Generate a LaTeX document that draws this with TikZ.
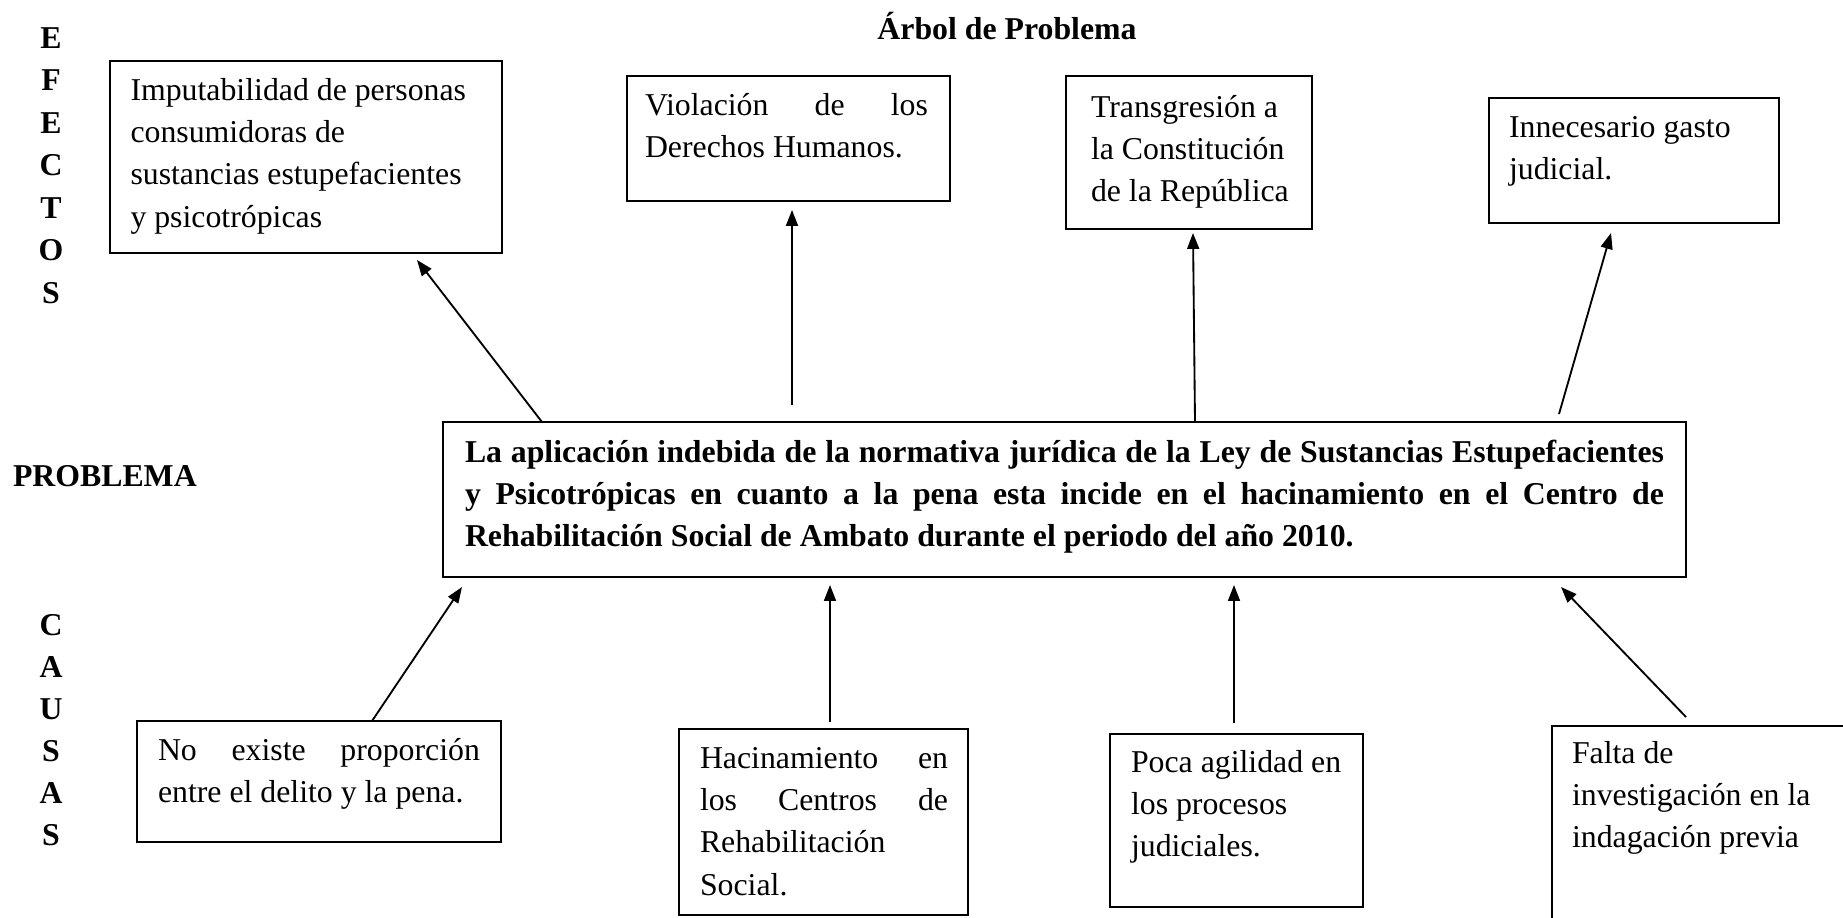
\documentclass[tikz,border=0pt]{standalone}
\usepackage{fontspec}
\setmainfont{Liberation Serif}
\usetikzlibrary{arrows.meta,calc,fit}
\newcommand\fstrut{\rule{0pt}{10pt}}
\begin{document}
\begin{tikzpicture}[x=0.3774pt, y=-0.3774pt,
  box/.style={draw, line width=0.75pt, inner sep=0pt, outer sep=0pt},
  txt/.style={inner sep=0pt, outer sep=0pt, anchor=north west, yshift=10pt, font=\fontsize{12}{16}\selectfont},
  lbl/.style={inner sep=0pt, outer sep=0pt, anchor=base, font=\fontsize{12}{16}\selectfont\bfseries},
  arr/.style={line width=0.7pt, -{Triangle[length=6pt,width=4.5pt]}}]
\useasboundingbox (0,0) rectangle (1843,917);
\clip (0,0) rectangle (1843,917);

% title and side labels
\node[lbl] (title) at (1007,39) {Árbol de Problema};
\node[lbl, anchor=base west] (prob) at (13,486) {PROBLEMA};
\foreach \l/\yy [count=\i] in {E/48,F/90.5,E/133,C/175.5,T/218,O/260.5,S/303}
  \node[lbl] (ef\i) at (51,\yy) {\l};
\foreach \l/\yy [count=\i] in {C/635,A/677,U/719,S/761,A/803,S/845}
  \node[lbl] (ca\i) at (51,\yy) {\l};

% frames
\node[box, fit={(110,61) (502,253)}] (b1) {};
\node[box, fit={(627,76) (950,201)}] (b2) {};
\node[box, fit={(1066,76) (1312,229)}] (b3) {};
\node[box, fit={(1489,98) (1779,223)}] (b4) {};
\node[box, fit={(443,422) (1686,577)}] (m) {};
\node[box, fit={(137,721) (501,842)}] (b5) {};
\node[box, fit={(679,729) (968,915)}] (b6) {};
\node[box, fit={(1110,734) (1363,907)}] (b7) {};
\node[box, fit={(1552,726) (1880,980)}] (b8) {};

% texts
\node[txt, align=left] (t1) at (130.5,100) {\fstrut Imputabilidad de personas\\consumidoras de\\sustancias estupefacientes\\y psicotrópicas};
\node[txt, text width=106.8pt, align=justify] (t2) at (645,115) {\fstrut Violación de los\linebreak Derechos Humanos.};
\node[txt, align=left] (t3) at (1091,117) {\fstrut Transgresión a\\la Constitución\\de la República};
\node[txt, align=left] (t4) at (1509,137) {\fstrut Innecesario gasto\\judicial.};
\node[txt, text width=452.5pt, align=justify, font=\fontsize{12}{16}\selectfont\bfseries] (tm) at (465,462)
  {\fstrut La aplicación indebida de la normativa jurídica de la Ley de Sustancias Estupefacientes\linebreak
   y Psicotrópicas en cuanto a la pena esta incide en el hacinamiento en el Centro de\linebreak
   Rehabilitación Social de Ambato durante el periodo del año 2010.};
\node[txt, text width=121.5pt, align=justify] (t5) at (158,760) {\fstrut No existe proporción\linebreak entre el delito y la pena.};
\node[txt, text width=93.6pt, align=justify] (t6) at (700,768) {\fstrut Hacinamiento en\linebreak los Centros de\linebreak Rehabilitación\newline Social.};
\node[txt, align=left] (t7) at (1131,772) {\fstrut Poca agilidad en\\los procesos\\judiciales.};
\node[txt, align=left] (t8) at (1572,763) {\fstrut Falta de\\investigación en la\\indagación previa};

% effect arrows
\draw[arr] ($(m.north west)+(99,0)$) -- ($(b1.south west)+(307,7)$);
\draw[arr] ($(m.north west)+(349,-17)$) -- ($(b2.south west)+(165,9)$);
\draw[arr] ($(m.north west)+(752,0)$) -- ($(b3.south west)+(127,4)$);
\draw[arr] ($(m.north west)+(1116,-8)$) -- ($(b4.south west)+(122,10)$);

% cause arrows
\draw[arr] ($(b5.north west)+(235,0)$) -- ($(m.south west)+(19,10)$);
\draw[arr] ($(b6.north west)+(151,-7)$) -- ($(m.south west)+(387,8)$);
\draw[arr] ($(b7.north west)+(124,-11)$) -- ($(m.south west)+(791,8)$);
\draw[arr] ($(b8.north west)+(134,-9)$) -- ($(m.south west)+(1118,10)$);
\end{tikzpicture}
\end{document}
